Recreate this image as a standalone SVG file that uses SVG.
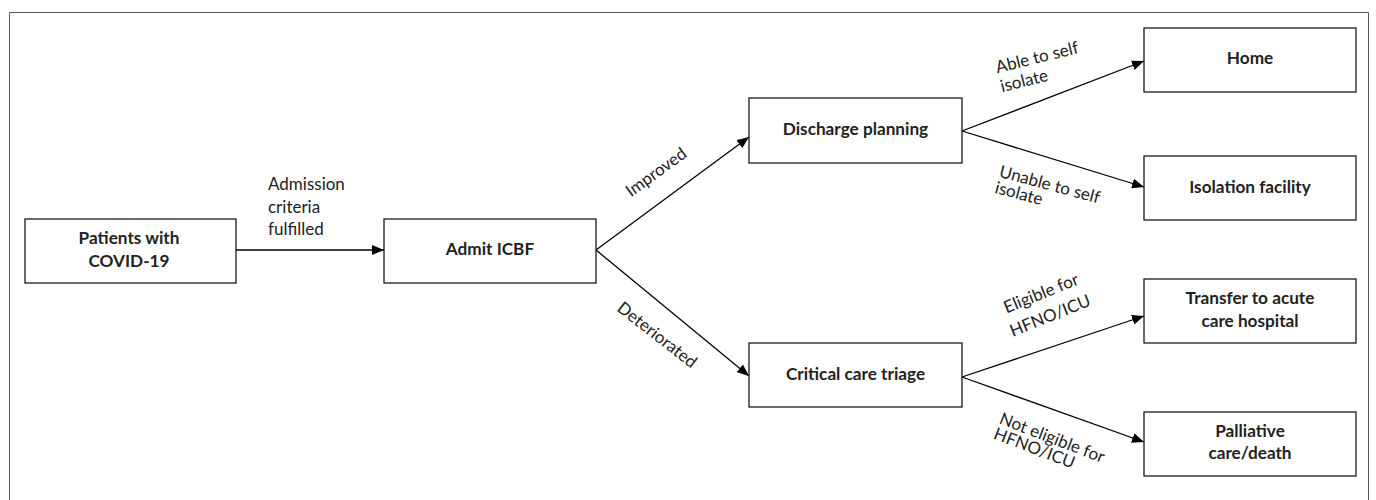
<svg xmlns="http://www.w3.org/2000/svg" width="1376" height="500" viewBox="0 0 1376 500">
<defs>
<marker id="arr" viewBox="0 0 12 10" refX="12" refY="5" markerWidth="12" markerHeight="10" markerUnits="userSpaceOnUse" orient="auto">
<path d="M0,0 L12,5 L0,10 z" fill="#000"/>
</marker>
<style>
.box{fill:#fff;stroke:#1a1a1a;stroke-width:1.3}
.nt{font-family:Lato,"Open Sans","Liberation Sans",sans-serif;font-weight:bold;font-size:17.2px;fill:#222;text-anchor:middle}
.lb{font-family:Lato,"Open Sans","Liberation Sans",sans-serif;font-size:17px;fill:#222}
.cn{stroke:#000;stroke-width:1.3;fill:none;marker-end:url(#arr)}
</style>
</defs>
<rect width="1376" height="500" fill="#fff"/>
<path d="M9.5,510 V12.5 H1368.5 V510" fill="none" stroke="#555" stroke-width="1"/>
<g id="connectors">
<line class="cn" x1="236" y1="250" x2="384" y2="250"/>
<line class="cn" x1="596" y1="250" x2="749" y2="137"/>
<line class="cn" x1="596" y1="250" x2="749" y2="376"/>
<line class="cn" x1="962" y1="131" x2="1144" y2="61"/>
<line class="cn" x1="962" y1="131" x2="1144" y2="187"/>
<line class="cn" x1="962" y1="377" x2="1144" y2="316"/>
<line class="cn" x1="962" y1="377" x2="1144" y2="442"/>
</g>
<g id="connector-labels">
<text class="lb" x="268" y="190">Admission</text>
<text class="lb" x="268" y="212.5">criteria</text>
<text class="lb" x="268" y="235">fulfilled</text>
<text class="lb" transform="translate(631,197.5) rotate(-36)">Improved</text>
<text class="lb" transform="translate(616,310) rotate(38)">Deteriorated</text>
<g transform="translate(997.3,73.3) rotate(-14)">
<text class="lb" x="0" y="0">Able to self</text>
<text class="lb" x="0" y="19.5">isolate</text>
</g>
<g transform="translate(998.3,176.7) rotate(15)">
<text class="lb" x="0" y="0">Unable to self</text>
<text class="lb" x="0" y="16.5">isolate</text>
</g>
<g transform="translate(1043.3,298.7) rotate(-22)">
<text class="lb" x="0" y="0" text-anchor="middle">Eligible for</text>
<text class="lb" x="0" y="24" text-anchor="middle">HFNO/ICU</text>
</g>
<g transform="translate(998.3,423.3) rotate(21)">
<text class="lb" x="0" y="0">Not eligible for</text>
<text class="lb" x="0" y="16">HFNO/ICU</text>
</g>
</g>
<g id="patients">
<rect class="box" x="25" y="219" width="211" height="64"/>
<text class="nt" x="129" y="244">Patients with</text>
<text class="nt" x="129" y="267">COVID-19</text>
</g>
<g id="admit">
<rect class="box" x="384" y="219" width="212" height="64"/>
<text class="nt" x="490" y="255">Admit ICBF</text>
</g>
<g id="discharge">
<rect class="box" x="749" y="98" width="213" height="65"/>
<text class="nt" x="855.5" y="135">Discharge planning</text>
</g>
<g id="critical">
<rect class="box" x="749" y="343" width="213" height="64"/>
<text class="nt" x="855.5" y="380">Critical care triage</text>
</g>
<g id="home">
<rect class="box" x="1144" y="28" width="212" height="64"/>
<text class="nt" x="1250" y="63.5">Home</text>
</g>
<g id="isolation">
<rect class="box" x="1144" y="156" width="212" height="64"/>
<text class="nt" x="1250" y="193">Isolation facility</text>
</g>
<g id="transfer">
<rect class="box" x="1144" y="279" width="212" height="64"/>
<text class="nt" x="1250" y="303.5">Transfer to acute</text>
<text class="nt" x="1250" y="326.5">care hospital</text>
</g>
<g id="palliative">
<rect class="box" x="1144" y="412" width="212" height="64"/>
<text class="nt" x="1250" y="436.5">Palliative</text>
<text class="nt" x="1250" y="459">care/death</text>
</g>
</svg>
